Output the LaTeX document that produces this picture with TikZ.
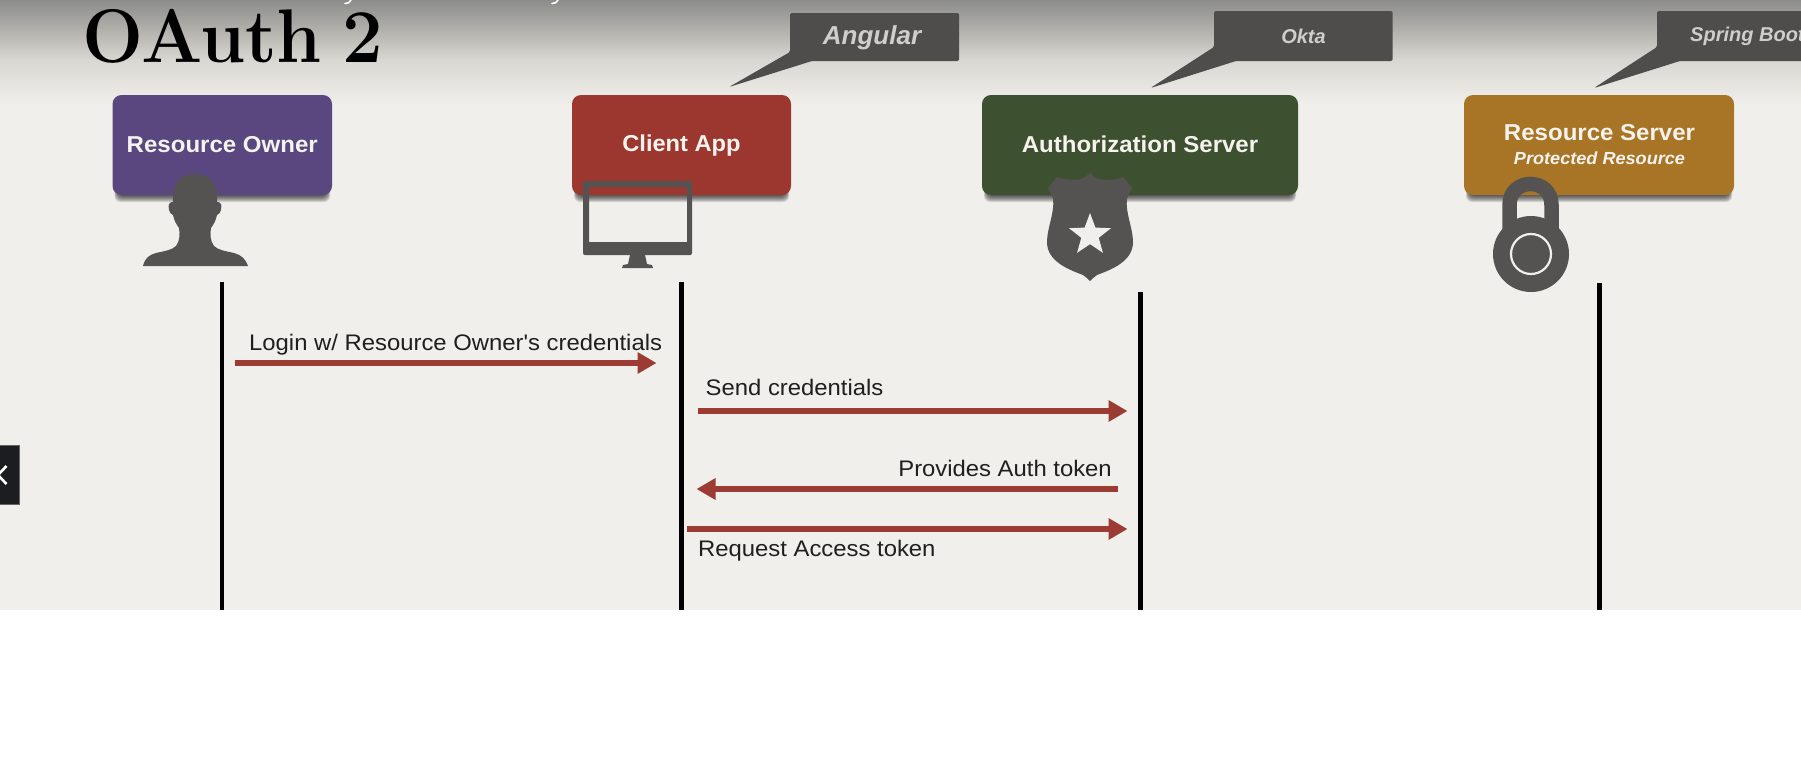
\documentclass[tikz,border=0pt]{standalone}
\usepackage{fontspec}
\newfontfamily\arfont{Liberation Sans}
\usetikzlibrary{arrows.meta,shapes.geometric}
\definecolor{paper}{HTML}{F0EFEB}
\definecolor{fadea}{HTML}{8C8C8A}
\definecolor{fadeb}{HTML}{B2B1AC}
\definecolor{fadec}{HTML}{D8D7D2}
\definecolor{icongray}{HTML}{555352}
\definecolor{calloutgray}{HTML}{4E4D4C}
\definecolor{calloutink}{HTML}{CFCECB}
\definecolor{arrowred}{HTML}{9C3B34}
\definecolor{boxpurple}{HTML}{5B4780}
\definecolor{boxred}{HTML}{9B372F}
\definecolor{boxgreen}{HTML}{3D5130}
\definecolor{boxgold}{HTML}{A87426}
\definecolor{boxink}{HTML}{F6F3EE}
\definecolor{navfill}{HTML}{1C1D20}
\definecolor{navedge}{HTML}{646464}
\tikzset{
  actorbox/.style={rounded corners=9pt,minimum height=100pt,minimum width=#1,inner sep=0pt},
  boxlabel/.style={inner sep=0pt,text=boxink,xscale=1.045,transform shape,font=\arfont\bfseries\fontsize{23}{26}\selectfont},
  flowtext/.style={inner sep=0pt,text=black!88,xscale=1.06,transform shape,font=\arfont\fontsize{22.5}{26}\selectfont},
  lifeline/.style={black,line width=4.5pt},
  flow/.style={arrowred,line width=6.5pt,-{Triangle[length=19pt,width=20.5pt]}},
  icon/.style={fill=icongray},
  callout/.style={fill=calloutgray,rounded corners=1.5pt},
  callouttext/.style={inner sep=0pt,text=calloutink,font=\arfont\bfseries\itshape\fontsize{20}{24}\selectfont},
}
\newcommand{\softshadow}[4]{% x1,x2,y-top,y-bottom
  \foreach \k in {0,...,7}{
    \fill[black,opacity=.12,rounded corners=6pt] ({#1+2+\k*.5},{#3}) rectangle ({#2-2-\k*.5},{#4+7-\k});
  }}
\begin{document}
\begin{tikzpicture}[x=1pt,y=-1pt]
\useasboundingbox (0,0) rectangle (1801,779);
\fill[white] (0,0) rectangle (1801,779);
\fill[paper] (0,0) rectangle (1801,610);
\shade[top color=fadea,bottom color=fadeb] (0,0) rectangle (1801,30);
\shade[top color=fadeb,bottom color=fadec] (0,30) rectangle (1801,60);
\shade[top color=fadec,bottom color=paper] (0,60) rectangle (1801,105);
% clipped line of text at the very top
\draw[white,line width=1.6pt,line cap=round] (345,3.5) .. controls (348,4) and (350,2) .. (351,0);
\draw[white,line width=1.6pt,line cap=round] (552,3.5) .. controls (555,4) and (557,2) .. (558,0);

% title
\node[inner sep=0pt,anchor=base west,text=black,font=\bfseries\fontsize{76}{80}\selectfont,xscale=.95,transform shape] (title) at (82,62) {OAuth\hspace{-.09em} 2};

% callouts
\fill[callout] (790,13) -- (959,13) -- (959,61) -- (812,61) -- (729,87) -- (790,52) -- cycle;
\fill[callout] (1214,11) -- (1392.5,11) -- (1392.5,61) -- (1236,61) -- (1150.5,88) -- (1214,47) -- cycle;
\fill[callout] (1657,11) -- (1830,11) -- (1830,61) -- (1680,61) -- (1594,88) -- (1657,47) -- cycle;
\node[callouttext,font=\arfont\bfseries\itshape\fontsize{26}{28}\selectfont] (angular) at (872,38) {Angular};
\node[callouttext] (okta) at (1303.5,36.5) {Okta};
\node[callouttext,anchor=west] (spring) at (1690,36.5) {Spring Boot};

% shadows
\softshadow{112.5}{332}{150}{195}
\softshadow{572}{791}{150}{195}
\softshadow{982}{1298}{150}{195}
\softshadow{1464}{1734}{150}{195}

% actor boxes
\node[actorbox=219.5pt,fill=boxpurple] (owner) at (222.25,145) {};
\node[actorbox=219pt,fill=boxred] (client) at (681.5,145) {};
\node[actorbox=316pt,fill=boxgreen] (auth) at (1140,145) {};
\node[actorbox=270pt,fill=boxgold] (res) at (1599,145) {};
\node[boxlabel] (ownertext) at (222.25,144.5) {Resource Owner};
\node[boxlabel,xscale=.985] (clienttext) at (681.5,146) {Client App};
\node[boxlabel] (authtext) at (1140,144) {Authorization Server};
\node[boxlabel] (restitle) at (1599.5,133) {Resource Server};
\node[inner sep=0pt,text=boxink,xscale=1.035,transform shape,font=\arfont\bfseries\itshape\fontsize{17.5}{20}\selectfont] (ressub) at (1599.5,158) {Protected Resource};

% person icon
\fill[icon] (143,266) .. controls (145,258) and (149,255) .. (156,253)
  .. controls (165,251) and (172,250) .. (176,246)
  .. controls (180,241) and (180,233) .. (179,228)
  .. controls (176,224) and (174,220) .. (173,215)
  .. controls (169,214) and (168,207) .. (169,204)
  .. controls (170,202) and (172,202) .. (173,202)
  .. controls (172,186) and (178,174) .. (195,174)
  .. controls (212,174) and (218,186) .. (217,202)
  .. controls (218,202) and (220,202) .. (221,204)
  .. controls (222,207) and (221,214) .. (217,215)
  .. controls (216,220) and (214,224) .. (211,228)
  .. controls (210,233) and (210,241) .. (214,246)
  .. controls (218,250) and (225,251) .. (234,253)
  .. controls (241,255) and (245,258) .. (248,266) -- cycle;

% monitor icon
\fill[icon,even odd rule] (583,181) -- (692,181) -- (692,253) .. controls (692,254.5) and (691,255) .. (690,255) -- (585,255) .. controls (584,255) and (583,254.5) .. (583,253) -- cycle
  (589,187) -- (687,187) -- (687,242) -- (589,242) -- cycle;
\fill[icon] (630,255) -- (645,255) -- (647,264) -- (652,265) -- (653,268) -- (622,268) -- (623,265) -- (628,264) -- cycle;

% shield icon
\fill[icon] (1090,173) .. controls (1094,177) and (1099,180) .. (1105,180)
  .. controls (1112,180) and (1118,179) .. (1123,177)
  .. controls (1126,181) and (1130,185) .. (1132,188)
  .. controls (1130,192) and (1128,195) .. (1127,199)
  .. controls (1125,212) and (1133,228) .. (1133,242)
  .. controls (1133,262) and (1110,270) .. (1097,275)
  .. controls (1094,277) and (1092,279) .. (1090,281)
  .. controls (1088,279) and (1086,277) .. (1083,275)
  .. controls (1070,270) and (1047,262) .. (1047,242)
  .. controls (1047,228) and (1055,212) .. (1053,199)
  .. controls (1052,195) and (1050,192) .. (1048,188)
  .. controls (1050,185) and (1054,181) .. (1057,177)
  .. controls (1062,179) and (1068,180) .. (1075,180)
  .. controls (1081,180) and (1086,177) .. (1090,173) -- cycle;
\node[star,star points=5,star point ratio=2.4,fill=paper,minimum size=44pt,inner sep=0pt] (badge) at (1090,235) {};

% lock icon
\draw[icongray,line width=14.5pt] (1509.5,240) -- (1509.5,205) .. controls (1509.5,177) and (1551.5,177) .. (1551.5,205) -- (1551.5,240);
\node[circle,icon,minimum size=76pt,inner sep=0pt] (lockbody) at (1531,254) {};
\node[circle,draw=paper,line width=2.2pt,minimum size=40pt,inner sep=0pt] (lockring) at (lockbody) {};

% lifelines
\coordinate (l1t) at (222,282); \coordinate (l1b) at (222,610);
\coordinate (l2t) at (681.5,282); \coordinate (l2b) at (681.5,610);
\coordinate (l3t) at (1140.5,292); \coordinate (l3b) at (1140.5,610);
\coordinate (l4t) at (1599.5,283); \coordinate (l4b) at (1599.5,610);
\draw[lifeline] (l1t) -- (l1b);
\draw[lifeline] (l2t) -- (l2b);
\draw[lifeline] (l3t) -- (l3b);
\draw[lifeline] (l4t) -- (l4b);

% flows
\coordinate (a1s) at (235,363); \coordinate (a1e) at (656.5,363);
\coordinate (a2s) at (698,411); \coordinate (a2e) at (1127.5,411);
\coordinate (a3s) at (1118,489); \coordinate (a3e) at (696.5,489);
\coordinate (a4s) at (687,529); \coordinate (a4e) at (1127.5,529);
\draw[flow] (a1s) -- (a1e);
\draw[flow] (a2s) -- (a2e);
\draw[flow] (a3s) -- (a3e);
\draw[flow] (a4s) -- (a4e);
\node[flowtext,anchor=west] (t1) at (249,345) {Login w/ Resource Owner's credentials};
\node[flowtext,anchor=west] (t2) at (705.5,387) {Send credentials};
\node[flowtext,anchor=east] (t3) at (1112,468) {Provides Auth token};
\node[flowtext,anchor=west] (t4) at (698,551) {Request Access token};

% side button
\fill[navfill,draw=navedge,line width=.8pt] (-2,445) rectangle (19.5,504);
\draw[white,line width=2.6pt] (6.5,466) -- (-2,475) -- (6.5,484);
\end{tikzpicture}
\end{document}
